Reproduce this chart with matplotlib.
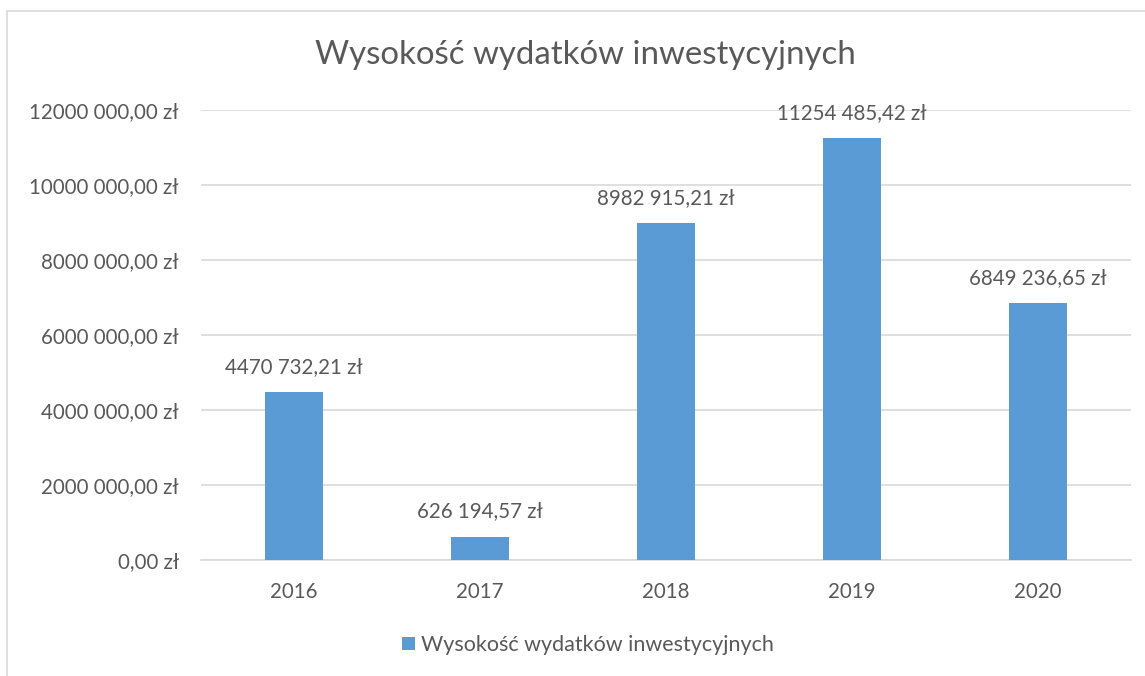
import matplotlib.pyplot as plt
import matplotlib.patches as mpatches
from matplotlib.ticker import FuncFormatter

years = ["2016", "2017", "2018", "2019", "2020"]
spending = [4470732.21, 626194.57, 8982915.21, 11254485.42, 6849236.65]
y_ticks = [0, 2000000, 4000000, 6000000, 8000000, 10000000, 12000000]

title = "Wysokość wydatków inwestycyjnych"
series_name = "Wysokość wydatków inwestycyjnych"

BAR = "#5B9BD5"
TXT = "#595959"
GRID = "#D9D9D9"

plt.rcParams['font.family'] = ['Lato', 'DejaVu Sans']


def pln(v, pos=None):
    # Excel style "# ###,00 zł": only the last group gets a space
    s = f"{v:.2f}"
    ip, dp = s.split(".")
    if len(ip) > 3:
        ip = ip[:-3] + " " + ip[-3:]
    return f"{ip},{dp} zł"


W, H = 1145, 676
fig = plt.figure(figsize=(W / 100, H / 100), dpi=100)

# chart area border (only left and top visible in the crop)
fig.patches.append(mpatches.Rectangle((7 / W, -0.2), 1.5, 1.2 - 11 / H,
                                      transform=fig.transFigure, fill=False,
                                      edgecolor=GRID, linewidth=1.2))

ax = fig.add_axes([201 / W, 1 - 560 / H, (1131 - 201) / W, (560 - 110) / H])

x = range(len(years))
bars = ax.bar(x, spending, width=0.31, color=BAR, zorder=3, label=series_name)

ax.set_xlim(-0.5, len(years) - 0.5)
ax.set_ylim(0, 12000000)
ax.set_yticks(y_ticks)
ax.yaxis.set_major_formatter(FuncFormatter(pln))
ax.set_xticks(list(x))
ax.set_xticklabels(years)
ax.tick_params(axis='both', length=0, labelsize=14.8, colors=TXT)
ax.tick_params(axis='y', pad=16)
ax.tick_params(axis='x', pad=16)
ax.grid(axis='y', color=GRID, linewidth=1.2, zorder=0)

for s in ['left', 'right', 'top']:
    ax.spines[s].set_visible(False)
ax.spines['bottom'].set_color(GRID)
ax.spines['bottom'].set_linewidth(1.2)

for b, v in zip(bars, spending):
    ax.annotate(pln(v), (b.get_x() + b.get_width() / 2, v),
                xytext=(0, 18), textcoords='offset points',
                ha='center', va='center', fontsize=14.8, color=TXT,
                annotation_clip=False)

fig.text(585 / W, 1 - 55 / H, title, ha='center', va='center',
         fontsize=23.8, color=TXT)

fig.legend(handles=[bars], labels=[series_name], loc='center',
           bbox_to_anchor=(588 / W, 1 - 645 / H), frameon=False,
           fontsize=15.5, labelcolor=TXT, handlelength=0.6, handleheight=0.6,
           handletextpad=0.3)

fig.savefig("out.png", dpi=100)
